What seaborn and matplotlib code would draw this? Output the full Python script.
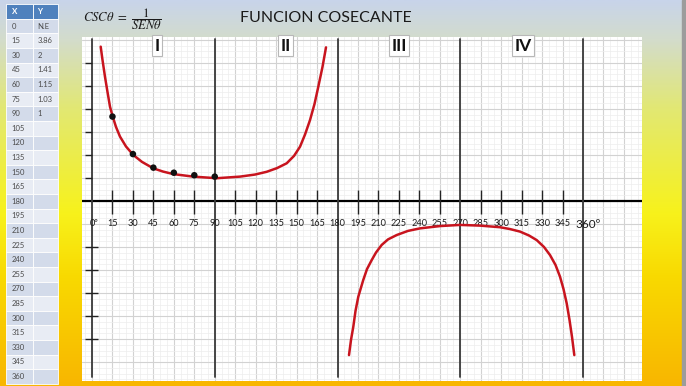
import numpy as np
import pandas as pd
import matplotlib
matplotlib.use("Agg")
import matplotlib.pyplot as plt
import seaborn as sns
from matplotlib.colors import LinearSegmentedColormap
from matplotlib.patches import Rectangle
from matplotlib.ticker import MultipleLocator

# ---------------- data ----------------
table_x = [0, 15, 30, 45, 60, 75, 90, 105, 120, 135, 150, 165, 180, 195, 210,
           225, 240, 255, 270, 285, 300, 315, 330, 345, 360]
table_y = ["N.E", "3.86", "2", "1.41", "1.15", "1.03", "1"] + [""] * 18

point_deg = [15, 30, 45, 60, 75, 90]
point_val = [3.67, 2.04, 1.45, 1.23, 1.12, 1.06]

curve1_deg = [6.38, 7.70, 9.53, 11.36, 13.20, 15.18, 17.60, 20.53, 24.93, 30.28,
              36.66, 44.94, 52.05, 59.61, 74.27, 91.43, 108.52, 119.52, 128.09,
              135.65, 142.76, 148.11, 152.51, 156.18, 159.85, 163.15, 165.93,
              169.0, 171.57]
curve1_val = [6.71, 6.13, 5.40, 4.74, 4.10, 3.67, 3.22, 2.80, 2.37, 2.00, 1.70,
              1.42, 1.28, 1.17, 1.06, 0.99, 1.06, 1.15, 1.27, 1.43, 1.64, 1.96,
              2.36, 2.89, 3.52, 4.22, 4.97, 5.83, 6.68]
curve2_deg = [188.43, 189.90, 191.58, 193.20, 195.25, 198.91, 201.63, 205.07,
              208.23, 212.40, 217.02, 223.40, 231.69, 240.49, 255.15, 269.82,
              284.48, 299.14, 306.47, 313.81, 320.41, 326.05, 331.41, 335.81,
              339.84, 343.14, 345.71, 348.05, 350.11, 351.94, 353.63]
curve2_val = [-6.70, -6.04, -5.47, -4.78, -4.16, -3.43, -2.96, -2.57, -2.24,
              -1.91, -1.67, -1.48, -1.30, -1.19, -1.09, -1.04, -1.07, -1.14,
              -1.22, -1.33, -1.50, -1.70, -2.00, -2.35, -2.78, -3.29, -3.83,
              -4.45, -5.17, -5.91, -6.70]

tick_deg = list(range(0, 361, 15))
tick_lab = ["0º"] + [str(d) for d in range(15, 360, 15)] + ["360º"]
quad_deg = [47.5, 142, 225, 316]
quad_lab = ["I", "II", "III", "IV"]
ytick_up = [1, 2, 3, 4, 5, 6]
ytick_dn = [-2, -3, -4, -5, -6]

title = "FUNCION COSECANTE"
formula = r"$CSC\theta\ =\ \dfrac{1}{SEN\theta}$"

# ---------------- style ----------------
sns.set_theme(style="white")
plt.rcParams["font.family"] = ["Lato", "DejaVu Sans"]
plt.rcParams["mathtext.fontset"] = "stix"

W, H = 686, 386
fig = plt.figure(figsize=(W / 100, H / 100), dpi=100)

# background gradient (pixel coordinates)
bg = fig.add_axes([0, 0, 1, 1])
bg.set_xlim(0, W)
bg.set_ylim(H, 0)
bg.axis("off")
cmap = LinearSegmentedColormap.from_list(
    "bg", [(0.0, "#c8d4ea"), (0.10, "#d3dccc"), (0.28, "#e2e873"),
           (0.55, "#f7f21c"), (0.72, "#f9d900"), (1.0, "#f8b600")])
grad = np.linspace(0, 1, 256).reshape(-1, 1)
bg.imshow(grad, cmap=cmap, extent=[0, W, H, 0], aspect="auto", zorder=0)
bg.add_patch(Rectangle((682, 0), 4, H, color="#9c9c9c", zorder=1))

# table
row_h = 14.6
x0, xm, x1 = 6, 33, 57.5
top0 = 4.2
bg.add_patch(Rectangle((x0, top0), xm - x0, row_h, fc="#4f81bd", ec="white", lw=0.6, zorder=2))
bg.add_patch(Rectangle((xm, top0), x1 - xm, row_h, fc="#4f81bd", ec="white", lw=0.6, zorder=2))
bg.text(11.5, top0 + row_h / 2, "X", color="white", fontsize=5.8, fontweight="bold",
        va="center", ha="left", zorder=3)
bg.text(37.5, top0 + row_h / 2, "Y", color="white", fontsize=5.8, fontweight="bold",
        va="center", ha="left", zorder=3)
for i, (xv, yv) in enumerate(zip(table_x, table_y)):
    top = top0 + row_h * (i + 1)
    fc = "#d3dbea" if i % 2 == 0 else "#e8ecf4"
    bg.add_patch(Rectangle((x0, top), xm - x0, row_h, fc=fc, ec="white", lw=0.6, zorder=2))
    bg.add_patch(Rectangle((xm, top), x1 - xm, row_h, fc=fc, ec="white", lw=0.6, zorder=2))
    bg.text(11.5, top + row_h / 2, str(xv), color="#4a4a4a", fontsize=5.5,
            va="center", ha="left", zorder=3)
    if yv:
        bg.text(37.5, top + row_h / 2, yv, color="#4a4a4a", fontsize=5.5,
                va="center", ha="left", zorder=3)

# title and formula
bg.text(326, 18, title, fontsize=11.5, color="#1a1a1a", ha="center", va="center",
        family=["Lato", "DejaVu Sans"])
bg.text(83, 19.5, formula, fontsize=9.2, color="#1a1a1a", ha="left", va="center")

# ---------------- main chart ----------------
px_per_deg = 491 / 360.0
px_per_unit = 23.0
left_px, right_px, top_px, bot_px = 82, 642, 37, 381
ax = fig.add_axes([left_px / W, (H - bot_px) / H, (right_px - left_px) / W,
                   (bot_px - top_px) / H])
ax.set_facecolor("white")
ax.set_xlim((left_px - 92) / px_per_deg, (right_px - 92) / px_per_deg)
ax.set_ylim((201 - bot_px) / px_per_unit, (201 - top_px) / px_per_unit)
for s in ax.spines.values():
    s.set_visible(False)

ax.xaxis.set_major_locator(MultipleLocator(15))
ax.xaxis.set_minor_locator(MultipleLocator(5))
ax.yaxis.set_major_locator(MultipleLocator(1))
ax.yaxis.set_minor_locator(MultipleLocator(0.25))
ax.grid(which="major", color="#d2d2d2", lw=0.8)
ax.grid(which="minor", color="#ededed", lw=0.5)
ax.tick_params(which="both", length=0, labelbottom=False, labelleft=False)

# axes lines
ax.axhline(0, color="black", lw=1.6, zorder=3)
for d in [0, 90, 180, 270, 360]:
    ax.axvline(d, ymin=0.012, ymax=0.995, color="#3a3a3a", lw=1.3, zorder=3)
ax.vlines([d for d in tick_deg if d % 90], -0.57, 0.48, color="#222222", lw=1.0, zorder=3)
ax.hlines(ytick_up, -5, 0, color="#222222", lw=1.0, zorder=3)
ax.hlines(ytick_dn, -5, 4.4, color="#222222", lw=1.0, zorder=3)

for d, lab in zip(tick_deg, tick_lab):
    fs = 8.5 if lab == "360º" else 6.6
    dx = 4 if d == 360 else (1.5 if d == 0 else 0)
    ax.text(d + dx, -1.0, lab, ha="center", va="center", fontsize=fs, color="#1a1a1a",
            zorder=4)

# curves
c1 = pd.DataFrame({"deg": curve1_deg, "val": curve1_val})
c2 = pd.DataFrame({"deg": curve2_deg, "val": curve2_val})
pts = pd.DataFrame({"deg": point_deg, "val": point_val})
sns.lineplot(data=c1, x="deg", y="val", sort=False, estimator=None, color="#c8141e",
             lw=1.8, ax=ax, zorder=5)
sns.lineplot(data=c2, x="deg", y="val", sort=False, estimator=None, color="#c8141e",
             lw=1.8, ax=ax, zorder=5)
sns.scatterplot(data=pts, x="deg", y="val", color="#111111", s=22, edgecolor="none",
                ax=ax, zorder=6)
ax.set_xlabel("")
ax.set_ylabel("")

# quadrant labels
for d, lab in zip(quad_deg, quad_lab):
    ax.text(d, 6.75, lab, ha="center", va="center", fontsize=12.5, fontweight="bold",
            color="#111111", zorder=7,
            bbox=dict(boxstyle="square,pad=0.15", fc="white", ec="#b8b8b8", lw=0.8))

fig.savefig("out.png", dpi=100)
